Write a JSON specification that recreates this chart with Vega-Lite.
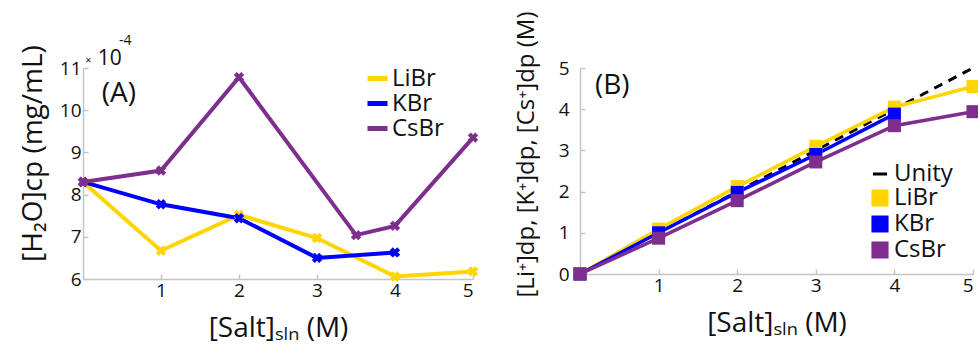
{
  "$schema": "https://vega.github.io/schema/vega-lite/v6.json",
  "background": "white",
  "padding": {"left": 19, "top": 11, "right": 0, "bottom": 0},
  "config": {
    "view": {"stroke": null},
    "font": "Open Sans",
    "concat": {"spacing": 33},
    "axis": {
      "grid": false,
      "domainColor": "#c4c4c4",
      "domainWidth": 1.5,
      "tickColor": "#c4c4c4",
      "tickWidth": 1.5,
      "tickSize": -5,
      "labelPadding": 7,
      "labelFont": "Open Sans",
      "labelFontSize": 19,
      "labelColor": "#111111",
      "titleFont": "Open Sans",
      "titleFontSize": 28,
      "titleFontWeight": "normal",
      "titleColor": "#111111"
    },
    "legend": {
      "labelFont": "Open Sans",
      "labelFontSize": 24,
      "labelColor": "#111111",
      "title": null
    }
  },
  "datasets": {
    "a": [
      {"series": "LiBr", "salt": 0, "h2o": 8.3},
      {"series": "LiBr", "salt": 1, "h2o": 6.67},
      {"series": "LiBr", "salt": 2, "h2o": 7.52},
      {"series": "LiBr", "salt": 3, "h2o": 6.97},
      {"series": "LiBr", "salt": 4, "h2o": 6.06},
      {"series": "LiBr", "salt": 5, "h2o": 6.18},
      {"series": "KBr", "salt": 0, "h2o": 8.3},
      {"series": "KBr", "salt": 1, "h2o": 7.77},
      {"series": "KBr", "salt": 2, "h2o": 7.44},
      {"series": "KBr", "salt": 3, "h2o": 6.5},
      {"series": "KBr", "salt": 4, "h2o": 6.63},
      {"series": "CsBr", "salt": 0, "h2o": 8.3},
      {"series": "CsBr", "salt": 1, "h2o": 8.57},
      {"series": "CsBr", "salt": 2, "h2o": 10.78},
      {"series": "CsBr", "salt": 3.5, "h2o": 7.04},
      {"series": "CsBr", "salt": 4, "h2o": 7.26},
      {"series": "CsBr", "salt": 5, "h2o": 9.35}
    ],
    "b": [
      {"series": "Unity", "salt": 0, "conc": 0},
      {"series": "Unity", "salt": 5, "conc": 5},
      {"series": "LiBr", "salt": 0, "conc": 0},
      {"series": "LiBr", "salt": 1, "conc": 1.09},
      {"series": "LiBr", "salt": 2, "conc": 2.12},
      {"series": "LiBr", "salt": 3, "conc": 3.1},
      {"series": "LiBr", "salt": 4, "conc": 4.05},
      {"series": "LiBr", "salt": 5, "conc": 4.55},
      {"series": "KBr", "salt": 0, "conc": 0},
      {"series": "KBr", "salt": 1, "conc": 1.0},
      {"series": "KBr", "salt": 2, "conc": 1.98},
      {"series": "KBr", "salt": 3, "conc": 2.9},
      {"series": "KBr", "salt": 4, "conc": 3.88},
      {"series": "CsBr", "salt": 0, "conc": 0},
      {"series": "CsBr", "salt": 1, "conc": 0.87},
      {"series": "CsBr", "salt": 2, "conc": 1.78},
      {"series": "CsBr", "salt": 3, "conc": 2.72},
      {"series": "CsBr", "salt": 4, "conc": 3.6},
      {"series": "CsBr", "salt": 5, "conc": 3.94}
    ],
    "labA": [{"label": "(A)", "salt": 0.24, "h2o": 10.38}],
    "timesA": [{"label": "×", "salt": 0.03, "h2o": 11.09}],
    "tenA": [{"label": "10", "salt": 0.19, "h2o": 11.06}],
    "supA": [{"label": "-4", "salt": 0.46, "h2o": 11.55}],
    "labB": [{"label": "(B)", "salt": 0.19, "conc": 4.56}]
  },
  "hconcat": [
    {
      "width": 390,
      "height": 211,
      "encoding": {
        "x": {"field": "salt", "type": "quantitative", "scale": {"domain": [0, 5], "nice": false},
              "axis": {"values": [1, 2, 3, 4, 5], "title": "[Salt]ₛₗₙ (M)", "titlePadding": 14}},
        "y": {"field": "h2o", "type": "quantitative", "scale": {"domain": [6, 11], "nice": false, "zero": false},
              "axis": {"values": [6, 7, 8, 9, 10, 11], "title": "[H₂O]cp (mg/mL)", "titlePadding": 12, "titleY": 85}}
      },
      "layer": [
        {
          "data": {"name": "a"},
          "mark": {"type": "line", "strokeWidth": 4},
          "encoding": {
            "color": {"field": "series", "type": "nominal",
                      "scale": {"domain": ["LiBr", "KBr", "CsBr"], "range": ["#FFD500", "#0000FF", "#7E2F8E"]},
                      "legend": {"orient": "none", "legendX": 282, "legendY": -2, "symbolType": "stroke", "symbolSize": 400, "symbolStrokeWidth": 5, "rowPadding": 0, "labelOffset": 2}}
          }
        },
        {
          "data": {"name": "a"},
          "mark": {"type": "point", "shape": "cross", "filled": true, "size": 110, "angle": 45, "opacity": 1},
          "encoding": {
            "color": {"field": "series", "type": "nominal", "scale": {"domain": ["LiBr", "KBr", "CsBr"], "range": ["#FFD500", "#0000FF", "#7E2F8E"]}, "legend": null}
          }
        },
        {
          "data": {"name": "labA"},
          "mark": {"type": "text", "align": "left", "baseline": "middle", "fontSize": 28, "color": "#111111"},
          "encoding": {"text": {"field": "label"}}
        },
        {
          "data": {"name": "timesA"},
          "mark": {"type": "text", "align": "left", "baseline": "alphabetic", "fontSize": 11, "color": "#111111", "clip": false},
          "encoding": {"text": {"field": "label"}}
        },
        {
          "data": {"name": "tenA"},
          "mark": {"type": "text", "align": "left", "baseline": "alphabetic", "fontSize": 21, "color": "#111111", "clip": false},
          "encoding": {"text": {"field": "label"}}
        },
        {
          "data": {"name": "supA"},
          "mark": {"type": "text", "align": "left", "baseline": "alphabetic", "fontSize": 14, "color": "#111111", "clip": false},
          "encoding": {"text": {"field": "label"}}
        }
      ]
    },
    {
      "width": 393,
      "height": 206,
      "encoding": {
        "x": {"field": "salt", "type": "quantitative", "scale": {"domain": [0, 5], "nice": false},
              "axis": {"values": [1, 2, 3, 4, 5], "title": "[Salt]ₛₗₙ (M)", "titlePadding": 14}},
        "y": {"field": "conc", "type": "quantitative", "scale": {"domain": [0, 5], "nice": false},
              "axis": {"values": [0, 1, 2, 3, 4, 5], "title": "[Li⁺]dp, [K⁺]dp, [Cs⁺]dp (M)", "labelPadding": 16, "titlePadding": 20, "titleFontSize": 24, "titleY": 86}},
        "color": {"field": "series", "type": "nominal",
                  "scale": {"domain": ["Unity", "LiBr", "KBr", "CsBr"], "range": ["#000000", "#FFD500", "#0000FF", "#7E2F8E"]},
                  "legend": {"orient": "none", "legendX": 288, "legendY": 94, "symbolSize": 200, "symbolStrokeWidth": 3, "rowPadding": -3, "labelOffset": 2}},
        "shape": {"field": "series", "type": "nominal",
                  "scale": {"domain": ["Unity", "LiBr", "KBr", "CsBr"], "range": ["stroke", "square", "square", "square"]},
                  "legend": {"orient": "none", "legendX": 288, "legendY": 94, "symbolSize": 200, "symbolStrokeWidth": 3, "rowPadding": -3, "labelOffset": 2}}
      },
      "layer": [
        {
          "data": {"name": "b"},
          "transform": [{"filter": "datum.series === 'Unity'"}],
          "mark": {"type": "line", "strokeWidth": 3, "strokeDash": [9, 7]}
        },
        {
          "data": {"name": "b"},
          "transform": [{"filter": "datum.series !== 'Unity'"}],
          "mark": {"type": "line", "strokeWidth": 3.5}
        },
        {
          "data": {"name": "b"},
          "transform": [{"filter": "datum.series !== 'Unity'"}],
          "mark": {"type": "point", "filled": true, "opacity": 1, "size": 170}
        },
        {
          "data": {"name": "labB"},
          "mark": {"type": "text", "align": "left", "baseline": "middle", "fontSize": 28, "color": "#111111"},
          "encoding": {"text": {"field": "label"}, "color": {"value": "#111111"}, "shape": {"value": "circle"}}
        }
      ]
    }
  ],
  "resolve": {"scale": {"color": "independent", "shape": "independent"}, "legend": {"color": "independent", "shape": "independent"}}
}
